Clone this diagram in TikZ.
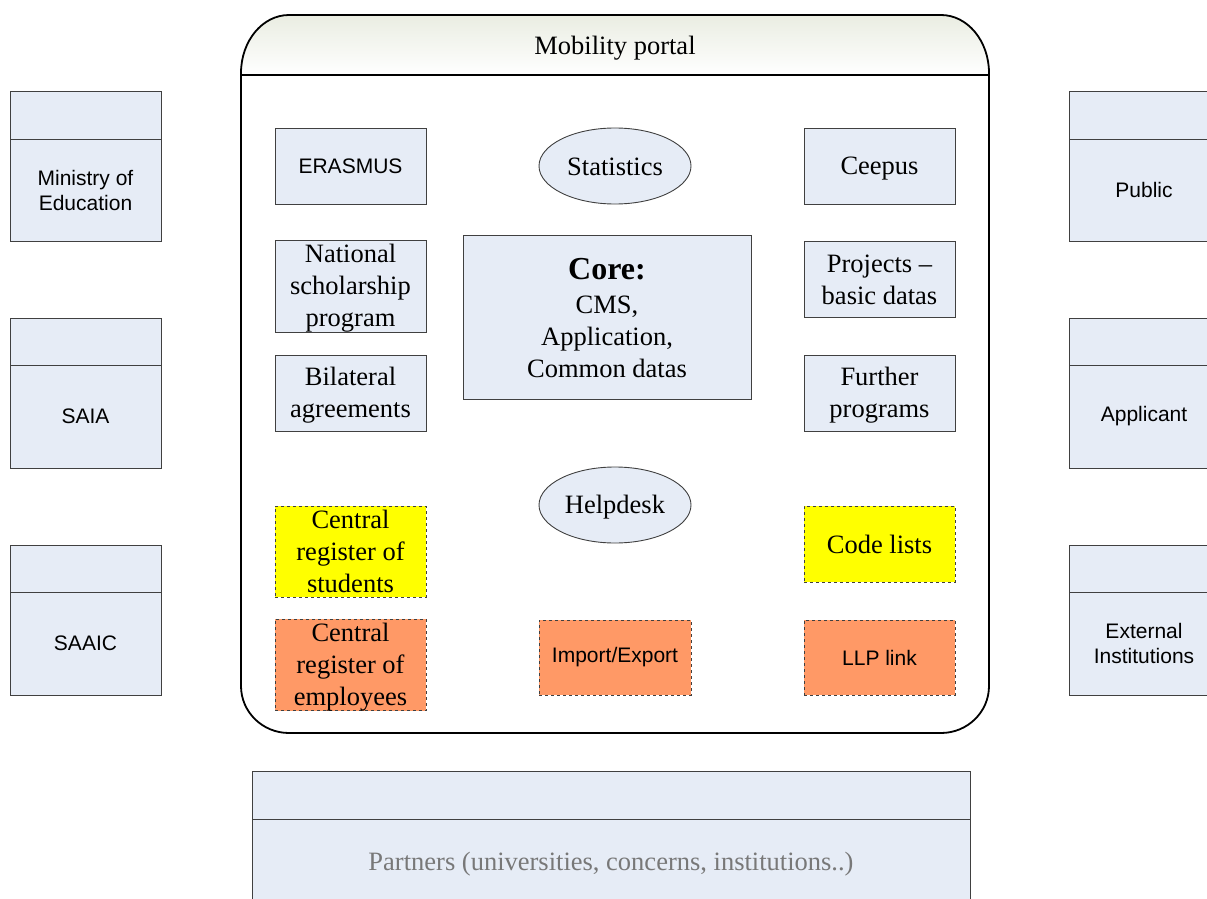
\documentclass[tikz,border=0pt]{standalone}
\usepackage{fontspec}
\setmainfont{Liberation Serif}
\setsansfont{Liberation Sans}
\usetikzlibrary{shapes.geometric}
\definecolor{boxblue}{RGB}{230,236,246}
\definecolor{boxline}{RGB}{64,64,64}
\definecolor{regyellow}{RGB}{255,255,0}
\definecolor{regorange}{RGB}{255,153,102}
\definecolor{headtop}{RGB}{234,237,226}
\definecolor{partnergray}{RGB}{120,120,120}
\newcommand\sersz{\fontsize{26.5}{32}\selectfont}
\newcommand\sanssz{\fontsize{21}{25}\selectfont\sffamily}
\newcommand\serstrut{\rule[-4pt]{0pt}{26pt}}
\begin{document}
\begin{tikzpicture}[x=1pt,y=-1pt,
  sertext/.style={font=\sersz, execute at begin node=\serstrut, execute at end node=\serstrut},
  boxbase/.style={draw=boxline, fill=boxblue, line width=0.9pt, inner sep=0pt, outer sep=0pt,
    align=center, minimum width=151pt, minimum height=76pt},
  inbox/.style={boxbase, sertext},
  multibox/.style={boxbase, font=\sersz},
  sansbox/.style={boxbase, font=\sanssz},
  oval/.style={ellipse, draw=boxline, fill=boxblue, line width=0.9pt, inner sep=0pt,
    minimum width=152pt, minimum height=76pt, sertext},
  yellowbox/.style={inbox, fill=regyellow, dashed},
  yellowmulti/.style={multibox, fill=regyellow, dashed},
  orangemulti/.style={multibox, fill=regorange, dashed},
  orangesans/.style={sansbox, fill=regorange, dashed},
  extbox/.style={draw=boxline, fill=boxblue, line width=0.9pt, inner sep=0pt, outer sep=0pt,
    minimum width=151pt, minimum height=150pt},
  extlabel/.style={align=center, font=\sanssz, inner sep=0pt},
  divider/.style={draw=boxline, line width=0.9pt},
  portalline/.style={draw=black, line width=1.8pt}
]
\useasboundingbox (0,0) rectangle (1207,899);
\clip (0,0) rectangle (1207,899);

% Portal outline with header
\begin{scope}
  \clip (241,75) -- (241,73) arc[start angle=180, end angle=270, x radius=48, y radius=58]
        -- (941,15) arc[start angle=270, end angle=360, x radius=48, y radius=58] -- (989,75) -- cycle;
  \shade[top color=headtop, bottom color=white] (241,15) rectangle (989,75);
\end{scope}
\draw[portalline] (241,73) arc[start angle=180, end angle=270, x radius=48, y radius=58]
   -- (941,15) arc[start angle=270, end angle=360, x radius=48, y radius=58]
   -- (989,686) arc[start angle=0, end angle=90, x radius=48, y radius=47]
   -- (289,733) arc[start angle=90, end angle=180, x radius=48, y radius=47] -- cycle;
\coordinate (hl) at (241,75);
\coordinate (hr) at (989,75);
\draw[portalline] (hl) -- (hr);
\node[sertext, inner sep=0pt] (portal) at (615,46) {Mobility portal};

% Inner boxes
\node[sansbox] (erasmus) at (350.5,166) {ERASMUS};
\node[oval] (stat) at (615,166) {Statistics};
\node[inbox] (ceepus) at (879.5,166) {Ceepus};
\node[multibox, minimum height=91pt] (national) at (350.5,286.5) {\serstrut National\\scholarship\\program\serstrut};
\node[multibox, minimum width=288pt, minimum height=164pt] (core) at (607,317)
  {{\bfseries\fontsize{32}{34}\selectfont\rule{0pt}{27pt}Core:}\\[2pt]CMS,\\Application,\\Common datas\serstrut};
\node[multibox] (projects) at (879.5,279) {\serstrut Projects --\\basic datas\serstrut};
\node[multibox] (bilateral) at (350.5,393) {\serstrut Bilateral\\agreements\serstrut};
\node[multibox] (further) at (879.5,393) {\serstrut Further\\programs\serstrut};
\node[oval] (help) at (615,505) {Helpdesk};
\node[yellowmulti, minimum height=91pt] (students) at (350.5,551.5) {\serstrut Central\\register of\\students\serstrut};
\node[yellowbox] (codes) at (879.5,544) {Code lists};
\node[orangemulti, minimum height=90pt] (employees) at (350.5,665) {\serstrut Central\\register of\\employees\serstrut};
\node[orangesans, minimum width=152pt, minimum height=75pt] (import) at (615,657.5) {Import/Export};
\node[orangesans, minimum height=75pt] (llp) at (879.5,657.5) {LLP link};

% Left external boxes
\node[extbox] (moe) at (85.5,166) {};
\draw[divider] ([yshift=-48pt]moe.north west) -- ([yshift=-48pt]moe.north east);
\node[extlabel] (moel) at (85.5,190) {Ministry of\\Education};
\node[extbox] (saia) at (85.5,393) {};
\draw[divider] ([yshift=-47pt]saia.north west) -- ([yshift=-47pt]saia.north east);
\node[extlabel] (saial) at (85.5,416) {SAIA};
\node[extbox] (saaic) at (85.5,620) {};
\draw[divider] ([yshift=-47pt]saaic.north west) -- ([yshift=-47pt]saaic.north east);
\node[extlabel] (saaicl) at (85.5,643) {SAAIC};

% Right external boxes
\node[extbox] (public) at (1144.5,166) {};
\draw[divider] ([yshift=-48pt]public.north west) -- ([yshift=-48pt]public.north east);
\node[extlabel] (publicl) at (1144,190) {Public};
\node[extbox] (applicant) at (1144.5,393) {};
\draw[divider] ([yshift=-47pt]applicant.north west) -- ([yshift=-47pt]applicant.north east);
\node[extlabel] (applicantl) at (1144,416) {Applicant};
\node[extbox] (external) at (1144.5,620) {};
\draw[divider] ([yshift=-47pt]external.north west) -- ([yshift=-47pt]external.north east);
\node[extlabel] (externall) at (1144,643) {External\\Institutions};

% Bottom partners box
\node[extbox, minimum width=718pt, minimum height=140pt] (partners) at (611,841) {};
\draw[divider] ([yshift=-48pt]partners.north west) -- ([yshift=-48pt]partners.north east);
\node[sertext, text=partnergray, inner sep=0pt] (partnersl) at (611,862) {Partners (universities, concerns, institutions..)};
\end{tikzpicture}
\end{document}
